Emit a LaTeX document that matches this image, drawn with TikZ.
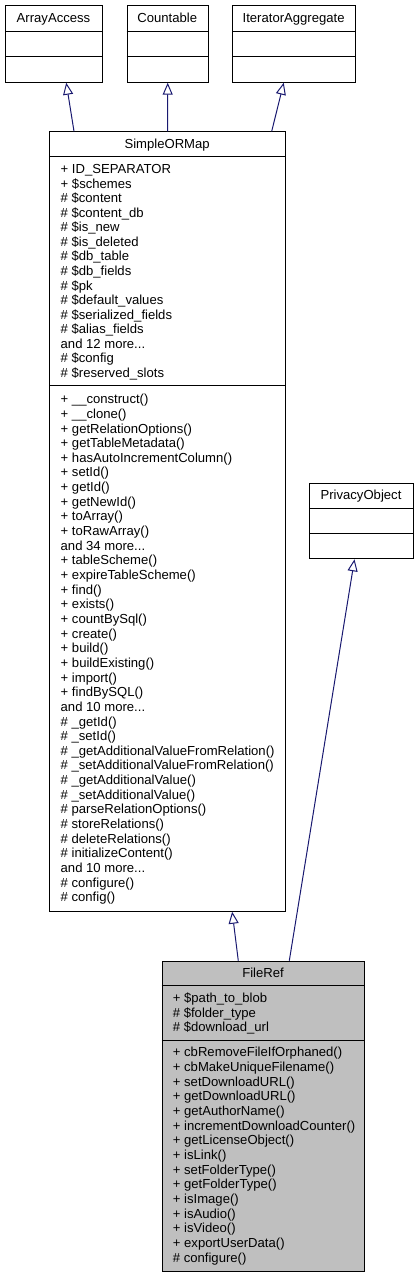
\documentclass[tikz,border=0pt]{standalone}
\usepackage{fontspec}
\setmainfont{Liberation Sans}
\usetikzlibrary{arrows.meta}
\definecolor{edgeblue}{HTML}{191970}
\definecolor{filerefgray}{HTML}{BFBFBF}
\newcommand\moredots{...}
\begin{document}
\begin{tikzpicture}[x=1pt,y=-1pt,
  font=\fontsize{13.1}{14.6}\selectfont,
  frame/.style={draw=black, line width=1pt, inner sep=0pt, anchor=north west},
  divider/.style={draw=black, line width=1pt},
  txt/.style={anchor=base west, inner sep=0pt},
  ttl/.style={anchor=base, inner sep=0pt},
  inh/.style={draw=edgeblue, line width=1pt, -{Triangle[open, length=12pt, width=10pt]}}]
\useasboundingbox (0,0) rectangle (418,1277);

% ArrayAccess
\node[frame, minimum width=97pt, minimum height=76.7pt] (aa) at (5,5) {};
\draw[divider] (5,31.7) -- (102,31.7);
\draw[divider] (5,56.7) -- (102,56.7);
\node[ttl] (aat) at (53.5,22.2) {ArrayAccess};

% Countable
\node[frame, minimum width=81pt, minimum height=76.7pt] (ct) at (126.7,5) {};
\draw[divider] (126.7,31.7) -- (207.7,31.7);
\draw[divider] (126.7,56.7) -- (207.7,56.7);
\node[ttl] (ctt) at (167.2,22.2) {Countable};

% IteratorAggregate
\node[frame, minimum width=122.7pt, minimum height=76.7pt] (ia) at (232.3,5) {};
\draw[divider] (232.3,31.7) -- (355,31.7);
\draw[divider] (232.3,56.7) -- (355,56.7);
\node[ttl] (iat) at (293.65,22.2) {IteratorAggregate};

% SimpleORMap
\node[frame, minimum width=235.7pt, minimum height=779.4pt] (sm) at (49.3,131.3) {};
\draw[divider] (49.3,156.7) -- (285,156.7);
\draw[divider] (49.3,385.5) -- (285,385.5);
\node[ttl] (smt) at (167.15,148.6) {SimpleORMap};
\foreach \t [count=\i from 0] in {%
  + ID\_SEPARATOR, + \$schemes, \# \$content, \# \$content\_db, \# \$is\_new,
  \# \$is\_deleted, \# \$db\_table, \# \$db\_fields, \# \$pk, \# \$default\_values,
  \# \$serialized\_fields, \# \$alias\_fields, {and 12 more\moredots}, \# \$config,
  \# \$reserved\_slots}
  \node[txt] (sma\i) at (60.5,{173.6+14.55*\i}) {\t};
\foreach \t [count=\i from 0] in {%
  + \_\_construct(), + \_\_clone(), + getRelationOptions(), + getTableMetadata(),
  + hasAutoIncrementColumn(), + setId(), + getId(), + getNewId(), + toArray(),
  + toRawArray(), {and 34 more\moredots}, + tableScheme(), + expireTableScheme(),
  + find(), + exists(), + countBySql(), + create(), + build(), + buildExisting(),
  + import(), + findBySQL(), {and 10 more\moredots}, \# \_getId(), \# \_setId(),
  \# \_getAdditionalValueFromRelation(), \# \_setAdditionalValueFromRelation(),
  \# \_getAdditionalValue(), \# \_setAdditionalValue(), \# parseRelationOptions(),
  \# storeRelations(), \# deleteRelations(), \# initializeContent(),
  {and 10 more\moredots}, \# configure(), \# config()}
  \node[txt] (smm\i) at (60.5,{403.7+14.65*\i}) {\t};

% PrivacyObject
\node[frame, minimum width=104pt, minimum height=75.6pt] (po) at (309,482.7) {};
\draw[divider] (309,508.3) -- (413,508.3);
\draw[divider] (309,533.3) -- (413,533.3);
\node[ttl] (pot) at (361,499.8) {PrivacyObject};

% FileRef
\node[frame, fill=filerefgray, minimum width=202.6pt, minimum height=310pt] (fr) at (161.7,960.7) {};
\draw[divider] (161.7,985.7) -- (364.3,985.7);
\draw[divider] (161.7,1040.8) -- (364.3,1040.8);
\node[ttl] (frt) at (263,977.7) {FileRef};
\foreach \t [count=\i from 0] in {%
  + \$path\_to\_blob, \# \$folder\_type, \# \$download\_url}
  \node[txt] (fra\i) at (172.7,{1002.5+14.65*\i}) {\t};
\foreach \t [count=\i from 0] in {%
  + cbRemoveFileIfOrphaned(), + cbMakeUniqueFilename(), + setDownloadURL(),
  + getDownloadURL(), + getAuthorName(), + incrementDownloadCounter(),
  + getLicenseObject(), + isLink(), + setFolderType(), + getFolderType(),
  + isImage(), + isAudio(), + isVideo(), + exportUserData(), \# configure()}
  \node[txt] (frm\i) at (172.7,{1056.9+14.65*\i}) {\t};

% Inheritance connectors
\draw[inh] ([xshift=24.7pt]sm.north west) -- ([xshift=12.2pt]aa.south);
\draw[inh] (sm.north) -- (ct.south);
\draw[inh] ([xshift=-14.3pt]sm.north east) -- ([xshift=-10.4pt]ia.south);
\draw[inh] ([xshift=76.6pt]fr.north west) -- ([xshift=64.5pt]sm.south);
\draw[inh] ([xshift=-76pt]fr.north east) -- ([xshift=-7pt]po.south);
\end{tikzpicture}
\end{document}
